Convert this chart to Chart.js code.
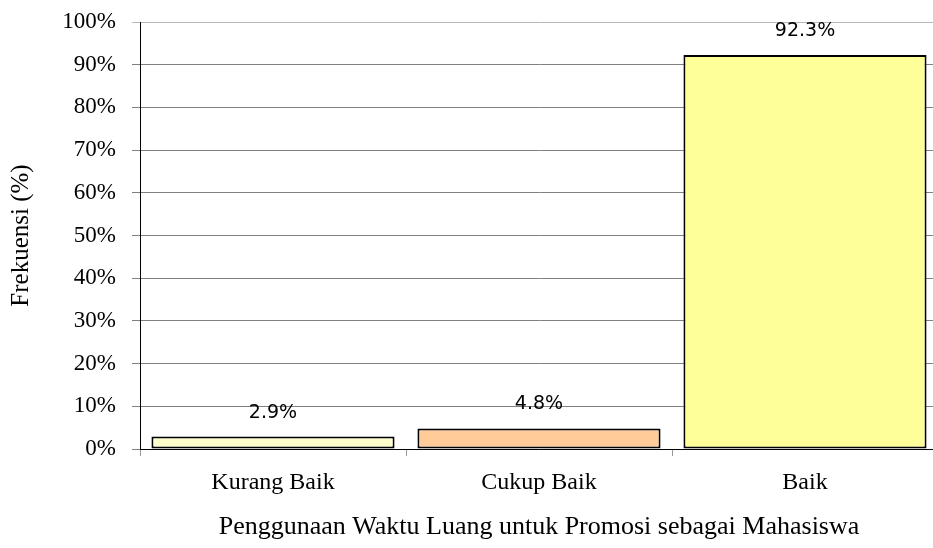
<!DOCTYPE html>
<html>
<head>
<meta charset="utf-8">
<script src="https://cdn.jsdelivr.net/npm/chart.js@4.4.0/dist/chart.umd.min.js"></script>
<style>
  html, body { margin: 0; padding: 0; background: #ffffff; overflow: hidden; }
  #wrap { width: 940px; height: 548px; }
</style>
</head>
<body>
<div id="wrap"><canvas id="chart" width="940" height="548"></canvas></div>
<script>
// kategori dan nilai (%)
const categories = ["Kurang Baik", "Cukup Baik", "Baik"];
const frekuensi = [2.9, 4.8, 92.3];
const barColors = ["#FFFFCC", "#FFCC99", "#FFFF99"];
const yTitle = "Frekuensi (%)";
const xTitle = "Penggunaan Waktu Luang untuk Promosi sebagai Mahasiswa";

const serif = "'Liberation Serif', 'Times New Roman', serif";

// label nilai di atas batang
const valueLabels = {
  id: "valueLabels",
  afterDatasetsDraw(chart) {
    const ctx = chart.ctx;
    const meta = chart.getDatasetMeta(0);
    ctx.save();
    ctx.font = "19px 'DejaVu Sans', sans-serif";
    ctx.fillStyle = "#000000";
    ctx.textAlign = "center";
    ctx.textBaseline = "middle";
    meta.data.forEach((bar, i) => {
      ctx.fillText(frekuensi[i].toFixed(1) + "%", bar.x, bar.y - 24);
    });
    ctx.restore();
  }
};

new Chart(document.getElementById("chart").getContext("2d"), {
  type: "bar",
  data: {
    labels: categories,
    datasets: [{
      data: frekuensi,
      backgroundColor: barColors,
      borderColor: "#000000",
      borderWidth: 2,
      borderSkipped: false,
      categoryPercentage: 0.914,
      barPercentage: 1.0
    }]
  },
  options: {
    responsive: false,
    animation: false,
    layout: { padding: { top: 22, right: 2, left: 0, bottom: 0 } },
    plugins: {
      legend: { display: false },
      tooltip: { enabled: false }
    },
    scales: {
      x: {
        offset: true,
        grid: {
          offset: true,
          drawOnChartArea: false,
          drawTicks: true,
          tickLength: 7,
          color: "#999999"
        },
        border: { color: "#000000", width: 1 },
        ticks: {
          color: "#000000",
          padding: 12,
          font: { family: serif, size: 24 }
        },
        title: {
          display: true,
          text: xTitle,
          color: "#000000",
          font: { family: serif, size: 26 },
          padding: { top: 0, bottom: 5 }
        },
        afterFit(scale) { scale.height = 99; }
      },
      y: {
        min: 0,
        max: 100,
        grid: {
          color: ctx => ctx.tick && ctx.tick.value === 100 ? "#b8b8b8" : "#808080",
          tickLength: 8,
          drawTicks: true
        },
        border: { color: "#000000", width: 1 },
        ticks: {
          stepSize: 10,
          color: "#000000",
          padding: 16,
          font: { family: serif, size: 23 },
          callback: v => v + "%"
        },
        title: {
          display: true,
          text: yTitle,
          color: "#000000",
          font: { family: serif, size: 25 },
          padding: { top: 6, bottom: 0 }
        },
        afterFit(scale) {
          scale.width = 140;
          scale.paddingTop = 0;
          scale.paddingBottom = 0;
        }
      }
    }
  },
  plugins: [valueLabels]
});
</script>
</body>
</html>
